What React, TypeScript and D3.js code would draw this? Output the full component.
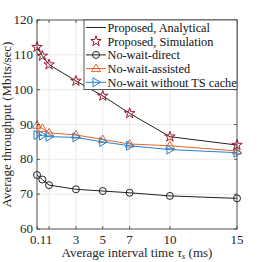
import * as d3 from "d3";
import { useEffect, useRef } from "react";

const xs = [0.1, 0.5, 1, 3, 5, 7, 10, 15];
const analytical = [112.2, 109.7, 107.2, 102.5, 98.2, 93.2, 86.5, 84.1];
const simulation = [112.2, 109.7, 107.2, 102.5, 98.2, 93.2, 86.5, 84.1];
const direct = [75.5, 74.2, 72.6, 71.4, 70.9, 70.4, 69.5, 68.8];
const assisted = [89.8, 88.9, 87.6, 87.0, 85.7, 84.4, 83.9, 82.4];
const noCache = [87.0, 86.8, 86.5, 86.3, 85.0, 83.9, 82.8, 81.9];
const xTicks = [0.1, 1, 3, 5, 7, 10, 15];
const yTicks = [60, 70, 80, 90, 100, 110, 120];
const legendLabels = [
    "Proposed, Analytical",
    "Proposed, Simulation",
    "No-wait-direct",
    "No-wait-assisted",
    "No-wait without TS cache",
];

const FONT = "Liberation Serif, Times New Roman, serif";
const RED = "#A2142F", ORANGE = "#E8632A", BLUE = "#1F82D0";

function marker(g: any, type: string, x: number, y: number, color: string) {
    if (type === "star") {
        g.append("path")
            .attr("d", d3.symbol(d3.symbolStar, 34)())
            .attr("transform", `translate(${x},${y})`)
            .attr("fill", "none").attr("stroke", color).attr("stroke-width", 1);
    } else if (type === "circle") {
        g.append("circle").attr("cx", x).attr("cy", y).attr("r", 3.5)
            .attr("fill", "none").attr("stroke", color).attr("stroke-width", 1);
    } else if (type === "up") {
        g.append("path")
            .attr("d", `M${x},${y - 4.5}L${x + 4.5},${y + 3}L${x - 4.5},${y + 3}Z`)
            .attr("fill", "none").attr("stroke", color).attr("stroke-width", 1);
    } else if (type === "right") {
        g.append("path")
            .attr("d", `M${x + 4.5},${y}L${x - 3},${y - 4.5}L${x - 3},${y + 4.5}Z`)
            .attr("fill", "none").attr("stroke", color).attr("stroke-width", 1);
    }
}

export default function App() {
    const ref = useRef(null);

    useEffect(() => {
        const width = 262, height = 262;
        const left = 37, right = 237, top = 20, bottom = 229;
        const svg = d3.select(ref.current);
        svg.selectAll("*").remove();

        const x = d3.scaleLinear().domain([0.1, 15]).range([left, right]);
        const y = d3.scaleLinear().domain([60, 120]).range([bottom, top]);

        svg.append("rect").attr("width", width).attr("height", height).attr("fill", "white");

        // grid
        const grid = svg.append("g").attr("stroke", "#e6e6e6").attr("stroke-width", 0.8);
        xTicks.forEach(t => grid.append("line").attr("x1", x(t)).attr("x2", x(t)).attr("y1", top).attr("y2", bottom));
        yTicks.forEach(t => grid.append("line").attr("y1", y(t)).attr("y2", y(t)).attr("x1", left).attr("x2", right));

        const series = [
            { v: direct, color: "#222", m: "circle" },
            { v: assisted, color: ORANGE, m: "up" },
            { v: noCache, color: BLUE, m: "right" },
            { v: analytical, color: "#222", m: "none" },
        ];
        const line = d3.line<number>().x((_d, i) => x(xs[i])).y(d => y(d));
        const plot = svg.append("g");
        series.forEach(s => {
            plot.append("path").attr("d", line(s.v)).attr("fill", "none")
                .attr("stroke", s.color).attr("stroke-width", 1);
            s.v.forEach((d, i) => marker(plot, s.m, x(xs[i]), y(d), s.color));
        });
        simulation.forEach((d, i) => marker(plot, "star", x(xs[i]), y(d), RED));

        // box and ticks
        const axis = svg.append("g").attr("stroke", "#333").attr("stroke-width", 0.8);
        axis.append("rect").attr("x", left).attr("y", top).attr("width", right - left)
            .attr("height", bottom - top).attr("fill", "none");
        xTicks.forEach(t => {
            axis.append("line").attr("x1", x(t)).attr("x2", x(t)).attr("y1", bottom).attr("y2", bottom - 3);
            axis.append("line").attr("x1", x(t)).attr("x2", x(t)).attr("y1", top).attr("y2", top + 3);
        });
        yTicks.forEach(t => {
            axis.append("line").attr("y1", y(t)).attr("y2", y(t)).attr("x1", left).attr("x2", left + 3);
            axis.append("line").attr("y1", y(t)).attr("y2", y(t)).attr("x1", right).attr("x2", right - 3);
        });

        const txt = svg.append("g").attr("font-family", FONT).attr("fill", "#262626");
        xTicks.forEach(t => txt.append("text").attr("x", x(t) + (t === 0.1 ? 1 : 0)).attr("y", bottom + 14.5)
            .attr("text-anchor", "middle").attr("font-size", 13).text(String(t)));
        yTicks.forEach(t => txt.append("text").attr("x", left - 4).attr("y", y(t) + 4)
            .attr("text-anchor", "end").attr("font-size", 13).text(String(t)));

        const xl = txt.append("text").attr("x", (left + right) / 2).attr("y", 257)
            .attr("text-anchor", "middle").attr("font-size", 13);
        xl.append("tspan").text("Average interval time ");
        xl.append("tspan").attr("font-style", "italic").text("τ");
        xl.append("tspan").attr("font-style", "italic").attr("font-size", 9).attr("dy", 2).text("s");
        xl.append("tspan").attr("dy", -2).text(" (ms)");

        txt.append("text").attr("transform", `translate(11,${(top + bottom) / 2}) rotate(-90)`)
            .attr("text-anchor", "middle").attr("font-size", 13).text("Average throughput (Mbits/sec)");

        // legend
        const lg = svg.append("g");
        lg.append("rect").attr("x", 84).attr("y", top).attr("width", right - 84).attr("height", 69.5)
            .attr("fill", "white").attr("stroke", "#333").attr("stroke-width", 0.8);
        const legendItems = [
            { color: "#222", m: "none", line: true },
            { color: RED, m: "star", line: false },
            { color: "#222", m: "circle", line: true },
            { color: ORANGE, m: "up", line: true },
            { color: BLUE, m: "right", line: true },
        ];
        legendItems.forEach((it, i) => {
            const cy = 27.5 + i * 13.7;
            if (it.line) lg.append("line").attr("x1", 86).attr("x2", 106).attr("y1", cy).attr("y2", cy)
                .attr("stroke", it.color).attr("stroke-width", 1);
            marker(lg, it.m, 96, cy, it.color);
            lg.append("text").attr("x", 107.5).attr("y", cy + 4.3).attr("font-family", FONT)
                .attr("font-size", 12.3).attr("fill", "#111").text(legendLabels[i]);
        });
    }, []);

    return (
        <div style={{ position: "absolute", left: 0, top: 0 }}>
            <svg ref={ref} width={262} height={262} style={{ display: "block" }}></svg>
        </div>
    );
}
